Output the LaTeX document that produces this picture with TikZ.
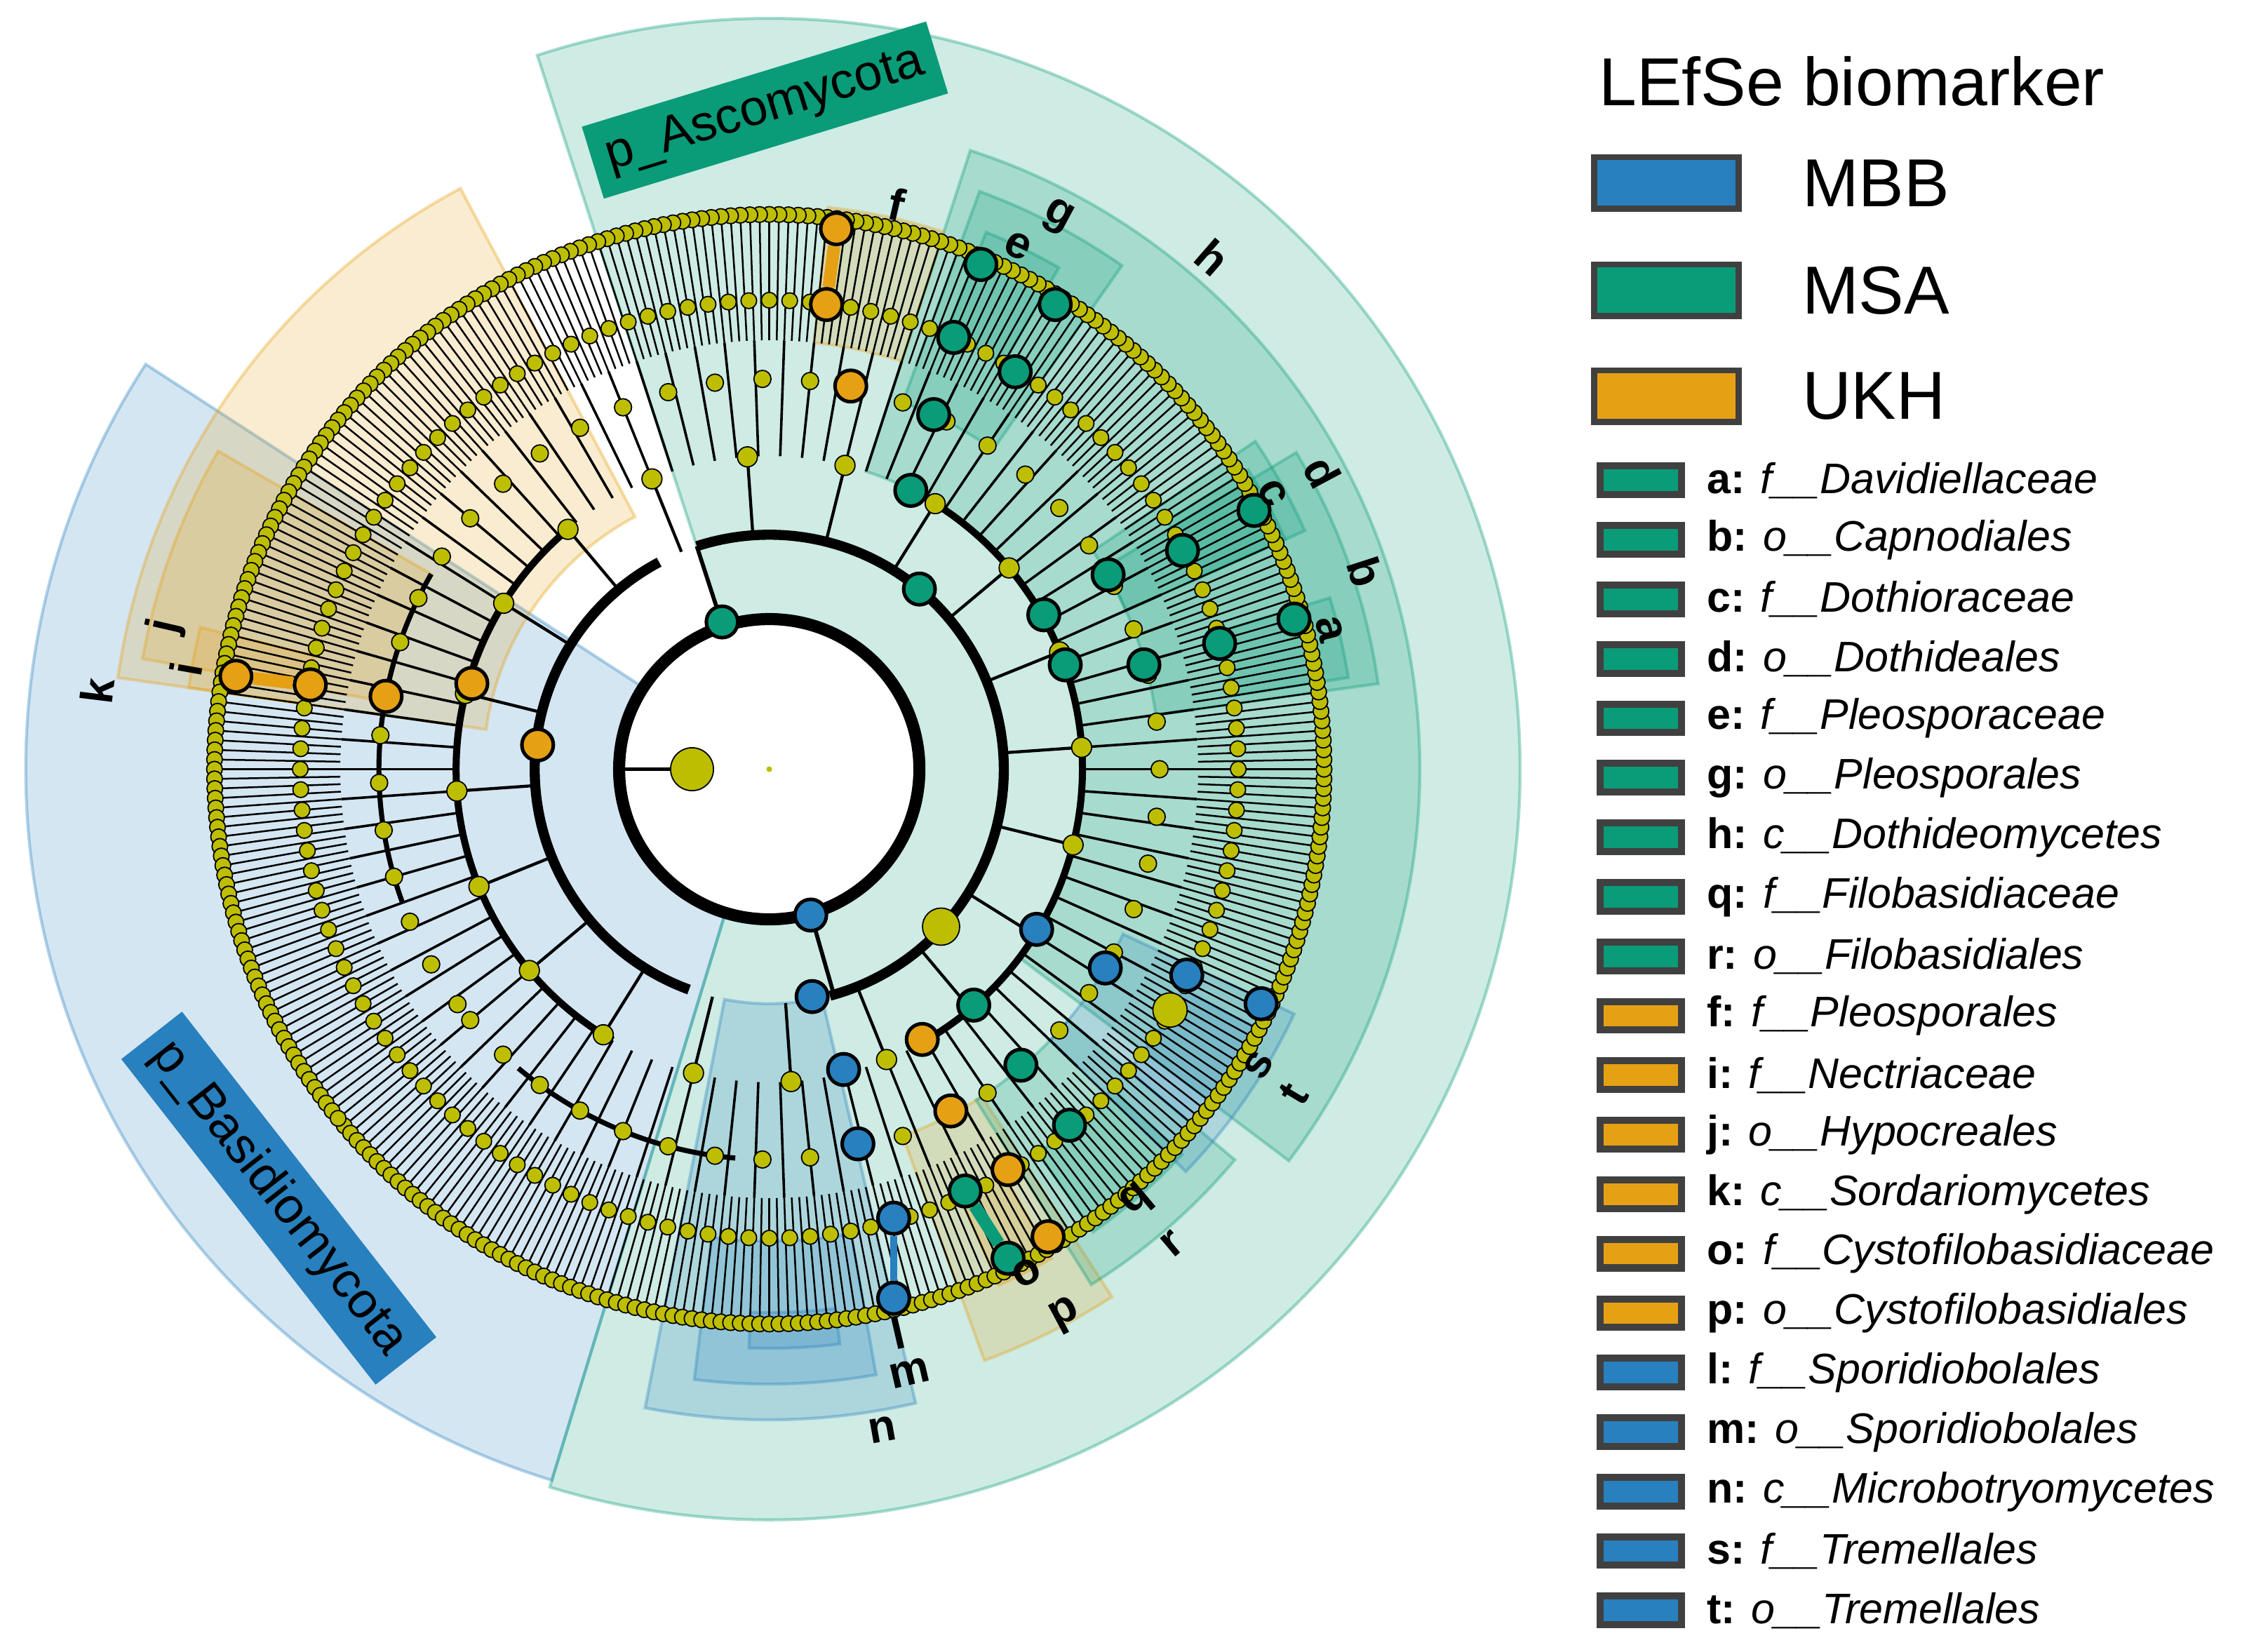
\documentclass[tikz,border=0pt]{standalone}
\usepackage{fontspec}
\setmainfont{Liberation Sans}
\usetikzlibrary{calc}
\definecolor{mbb}{RGB}{40,128,190}
\definecolor{msa}{RGB}{10,155,120}
\definecolor{ukh}{RGB}{230,160,20}
\definecolor{ylw}{RGB}{190,190,0}
\tikzset{
  dot/.style={fill=ylw,draw=black,line width=0.25pt},
  bio/.style={circle,fill=#1,draw=black,line width=0.7pt,inner sep=0pt,minimum size=0.22cm},
  clade/.style={font=\bfseries\fontsize{9}{9}\selectfont},
  legbox/.style={fill=#1,draw=black!75,line width=1.2pt}
}
% annular sector: colour, from angle, to angle, inner r, outer r
\newcommand{\cladesec}[5]{%
  \fill[#1,fill opacity=0.2] (#2:#4) arc[start angle=#2,end angle=#3,radius=#4]
    -- (#3:#5) arc[start angle=#3,end angle=#2,radius=#5] -- cycle;
  \draw[#1,opacity=0.35,line width=0.6pt] (#2:#4) arc[start angle=#2,end angle=#3,radius=#4]
    -- (#3:#5) arc[start angle=#3,end angle=#2,radius=#5] -- cycle;}
\begin{document}
\begin{tikzpicture}[x=0.01cm,y=0.01cm]
\useasboundingbox (0,0) rectangle (1568,1155);

\begin{scope}[shift={(538,617)}]
% phyla and clades
\cladesec{mbb}{147}{253}{108}{520}
\cladesec{msa}{-107}{108}{108}{525}
\cladesec{ukh}{118}{172}{200}{460}
\cladesec{ukh}{150}{170}{273}{445}
\cladesec{ukh}{166}{172}{328}{410}
\cladesec{msa}{-37}{72}{219}{455}
\cladesec{msa}{55}{70}{273}{430}
\cladesec{msa}{60}{68}{328}{405}
\cladesec{ukh}{72}{84}{300}{395}
\cladesec{msa}{8}{31}{273}{430}
\cladesec{msa}{24}{34}{273}{410}
\cladesec{msa}{24}{32}{328}{395}
\cladesec{msa}{9}{17}{328}{410}
\cladesec{mbb}{-101}{-77}{164}{455}
\cladesec{mbb}{-97}{-80}{330}{430}
\cladesec{mbb}{-92}{-83}{380}{405}
\cladesec{ukh}{-70}{-57}{273}{440}
\cladesec{ukh}{-66}{-60}{328}{395}
\cladesec{msa}{-58}{-40}{273}{425}
\cladesec{msa}{-55}{-43}{328}{395}
\cladesec{mbb}{-44}{-25}{273}{405}
\cladesec{mbb}{-40}{-28}{328}{385}

% tree
\fill[white] (0,0) circle (103);
\draw[line width=2.4pt] (0,0) circle (105);
\draw[line width=2pt] (-75:164) arc[start angle=-75,end angle=108,radius=164];
\draw[line width=2pt] (118:164) arc[start angle=118,end angle=250,radius=164];
\draw[line width=1.4pt] (-60:219) arc[start angle=-60,end angle=60,radius=219];
\draw[line width=1.4pt] (130:219) arc[start angle=130,end angle=240,radius=219];
\draw[line width=1pt] (-130:273) arc[start angle=-130,end angle=-95,radius=273];
\draw[line width=1pt] (150:273) arc[start angle=150,end angle=200,radius=273];
\draw[line width=0.8pt] (180:54) -- (180:105);
\draw[line width=0.8pt] (108:105) -- (108:164);
\draw[line width=0.8pt] (-74:105) -- (-74:164);
\foreach \a in {-140,-139,...,219}
  \draw[line width=0.35pt] (\a:300) -- (\a:388);
\foreach \a in {-140,-136,...,219}
  \draw[line width=0.5pt] (\a:219) -- (\a:300);
\foreach \a in {-140,-122,...,219}
  \draw[line width=0.6pt] (\a:164) -- (\a:219);
\foreach \a in {-140,-139,...,219}
  \filldraw[dot] (\a:388) circle (5.5);
\foreach \a in {-140,-137.5,...,219}
  \filldraw[dot] (\a:328) circle (5.5);
\foreach \a in {-140,-133,...,219}
  \filldraw[dot] (\a:273) circle (6);
\foreach \a in {-140,-122,...,219}
  \filldraw[dot] (\a:219) circle (7);
\filldraw[dot] (180:54) circle (15);
\filldraw[dot] (-42.5:163) circle (13);
\filldraw[dot] (-31:327) circle (12);
\fill[ylw] (0,0) circle (2);
\end{scope}

% biomarkers (msa)
\foreach \x/\y [count=\i] in {505/435,643/412,637/343,653/290,667/236,686/185,710/260,738/213,
    745/465,800/465,853/450,905/433,730/430,775/402,827/385,877/357,681/703,714/745,748/787,675/833,705/880}
  \node[bio=msa] (g\i) at (\x,1155-\y) {};
% biomarkers (ukh)
\foreach \x/\y [count=\i] in {376/521,330/478,270/487,217/479,165/473,595/270,578/213,585/160,645/727,665/777,705/818,733/865}
  \node[bio=ukh] (o\i) at (\x,1155-\y) {};
% biomarkers (mbb)
\foreach \x/\y [count=\i] in {567/640,568/697,590/748,600/800,625/852,625/908,725/650,773/677,830/682,882/702}
  \node[bio=mbb] (b\i) at (\x,1155-\y) {};
\draw[ukh,line width=2.5pt] (o4) -- (o5);
\draw[ukh,line width=2.5pt] (o7) -- (o8);
\draw[msa,line width=2.5pt] (g20) -- (g21);
\draw[mbb,line width=1.5pt] (b5) -- (b6);

% clade letters
\foreach \t/\x/\y/\r in {a/930/440/-76,b/955/400/-72,c/890/345/-61,d/925/330/-62,e/712/172/-25,
    f/627/143/-13,g/740/152/-28,h/848/180/-41,i/130/468/80,j/116/438/77,k/68/483/83,
    l/628/932/13,m/636/960/13,n/617/1000/10,o/718/890/27,p/745/920/28,q/795/840/40,
    r/820/870/40,s/880/745/59,t/905/765/59}
  \node[clade,rotate=\r] (lab\t) at (\x,1155-\y) {\t};

% phylum labels
\node[fill=msa,rotate=17,font=\fontsize{10}{10}\selectfont,inner sep=3pt] (asco) at (535,1078) {p\_Ascomycota};
\node[fill=mbb,rotate=-52,font=\fontsize{10}{10}\selectfont,inner sep=3pt] (basi) at (195,317) {p\_Basidiomycota};

% legend
\node[anchor=west,font=\fontsize{13.5}{13.5}\selectfont] (legt) at (1106,1098) {LEfSe biomarker};
\foreach \c/\n/\y in {mbb/MBB/128,msa/MSA/203,ukh/UKH/277}{
  \filldraw[legbox=\c] (1115,1155-\y-18) rectangle (1216,1155-\y+18);
  \node[anchor=west,font=\fontsize{13.5}{13.5}\selectfont] (leg\n) at (1248,1155-\y) {\n};
}
\foreach \c/\k/\n [count=\i from 0] in {msa/a/f\_\_Davidiellaceae,msa/b/o\_\_Capnodiales,msa/c/f\_\_Dothioraceae,
    msa/d/o\_\_Dothideales,msa/e/f\_\_Pleosporaceae,msa/g/o\_\_Pleosporales,msa/h/c\_\_Dothideomycetes,
    msa/q/f\_\_Filobasidiaceae,msa/r/o\_\_Filobasidiales,ukh/f/f\_\_Pleosporales,ukh/i/f\_\_Nectriaceae,
    ukh/j/o\_\_Hypocreales,ukh/k/c\_\_Sordariomycetes,ukh/o/f\_\_Cystofilobasidiaceae,
    ukh/p/o\_\_Cystofilobasidiales,mbb/l/f\_\_Sporidiobolales,mbb/m/o\_\_Sporidiobolales,
    mbb/n/c\_\_Microbotryomycetes,mbb/s/f\_\_Tremellales,mbb/t/o\_\_Tremellales}{
  \filldraw[legbox=\c,line width=1.4pt] (1119,1155-336-41.6*\i-10) rectangle (1176,1155-336-41.6*\i+10);
  \node[anchor=west,font=\fontsize{8.5}{8.5}\selectfont,inner sep=2pt] (item\k) at (1186,1155-336-41.6*\i)
    {\textbf{\k:} \textit{\n}};
}
\end{tikzpicture}
\end{document}
